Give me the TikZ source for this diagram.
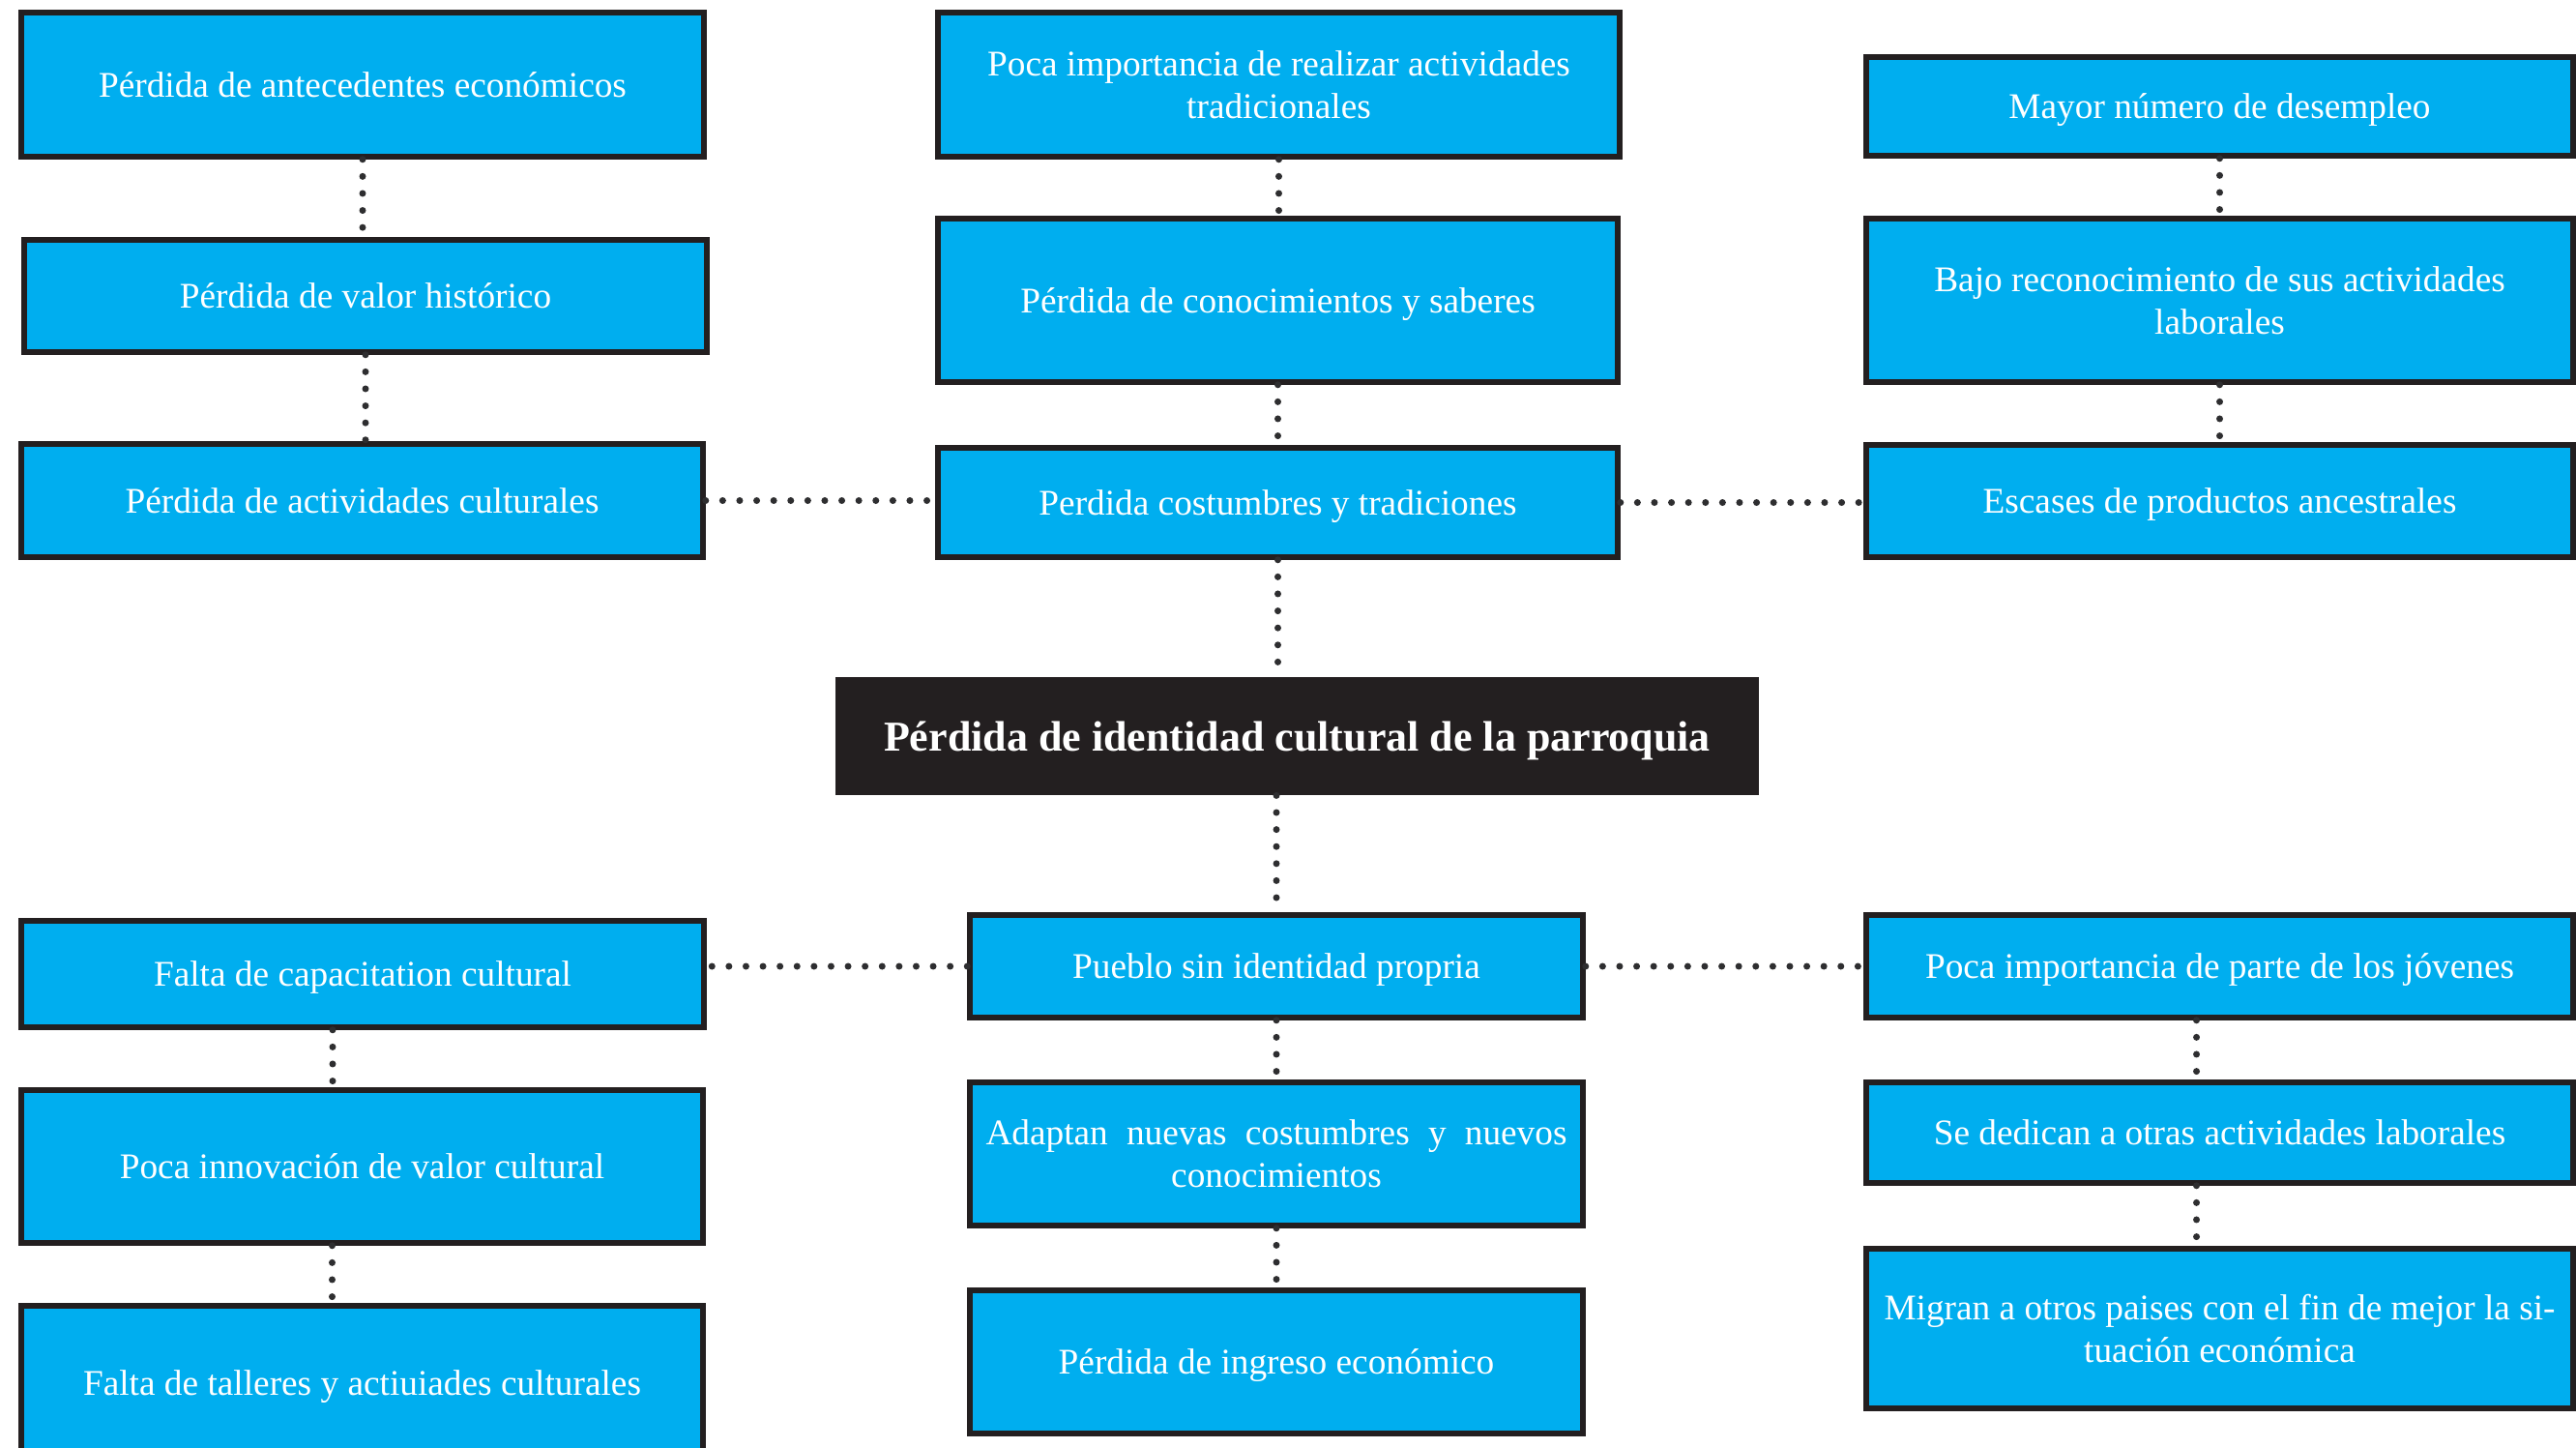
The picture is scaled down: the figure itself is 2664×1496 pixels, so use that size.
\documentclass[tikz,border=0pt]{standalone}
\usepackage{fontspec}
\setmainfont{Liberation Serif}
\usetikzlibrary{calc}
\definecolor{boxblue}{HTML}{00AEEF}
\definecolor{boxline}{HTML}{231F20}
\definecolor{dotc}{HTML}{2E2E30}
\newcommand\bx[7][one]{\node[box, #1, minimum width={(#5-#3)*0.5pt}, minimum height={(#6-#4)*0.5pt}] (#2) at ({(#3+#5)/2},{(#4+#6)/2}) {#7};}
\begin{document}
\begin{tikzpicture}[x=0.5pt,y=-0.5pt,
  box/.style={draw=boxline, line width=2.75pt, fill=boxblue, text=white, inner sep=0pt, align=center, font=\fontsize{18.65}{22}\selectfont},
  one/.style={text height=12.7pt, text depth=0pt},
  two/.style={},
  core/.style={fill=boxline, text=white, inner sep=0pt, align=center, text height=15pt, text depth=0pt, font=\fontsize{22}{26}\selectfont\bfseries},
  dots/.style={draw=dotc, line width=3.5pt, line cap=round, dash pattern=on 0pt off 8.8pt}]
\useasboundingbox (0,0) rectangle (2664,1496);

% top left column
\bx{B1}{22}{13}{728}{162}{Pérdida de antecedentes económicos}
\bx{B2}{25}{248}{731}{364}{Pérdida de valor histórico}
\bx{B3}{22}{459}{727}{576}{Pérdida de actividades culturales}
% top middle column
\bx[two]{B4}{970}{13}{1675}{162}{Poca importancia de realizar actividades\\tradicionales}
\bx{B5}{970}{226}{1673}{395}{Pérdida de conocimientos y saberes}
\bx{B6}{970}{463}{1673}{576}{Perdida costumbres y tradiciones}
% top right column
\bx{B7}{1930}{59}{2661}{161}{Mayor número de desempleo}
\bx[two]{B8}{1930}{226}{2661}{395}{Bajo reconocimiento de sus actividades\\laborales}
\bx{B9}{1930}{460}{2661}{576}{Escases de productos ancestrales}
% core
\node[core, minimum width=477.5pt, minimum height=61pt] (C) at (1341.5,761) {Pérdida de identidad cultural de la parroquia};
% bottom left column
\bx{B10}{22}{952}{728}{1062}{Falta de capacitation cultural}
\bx{B11}{22}{1127}{727}{1285}{Poca innovación de valor cultural}
\bx{B12}{22}{1350}{727}{1510}{Falta de talleres y actiuiades culturales}
% bottom middle column
\bx{B13}{1003}{946}{1637}{1052}{Pueblo sin identidad propria}
\bx[two]{B14}{1003}{1119}{1637}{1267}{\makebox[300.5pt][s]{Adaptan nuevas costumbres y nuevos}\\conocimientos}
\bx{B15}{1003}{1334}{1637}{1482}{Pérdida de ingreso económico}
% bottom right column
\bx{B16}{1930}{946}{2661}{1052}{Poca importancia de parte de los jóvenes}
\bx{B17}{1930}{1119}{2661}{1223}{Se dedican a otras actividades laborales}
\bx[two]{B18}{1930}{1291}{2661}{1456}{Migran a otros paises con el fin de mejor la si-\\tuación económica}

% vertical connectors, top
\draw[dots] (B1.south) -- (B1.south |- B2.north);
\draw[dots] (B2.south) -- (B2.south |- B3.north);
\draw[dots] (B4.south) -- (B4.south |- B5.north);
\draw[dots] (B5.south) -- (B5.south |- B6.north);
\draw[dots] (B7.south) -- (B7.south |- B8.north);
\draw[dots] (B8.south) -- (B8.south |- B9.north);
\draw[dots] (B6.south) -- (B6.south |- C.north);
% horizontal connectors, top
\draw[dots] (B3.east) -- (B3.east -| B6.west);
\draw[dots] (B6.east) -- (B6.east -| B9.west);
% core to bottom
\draw[dots] (B13.north |- C.south) -- (B13.north);
% horizontal connectors, bottom
\draw[dots] (B13.west) -- (B13.west -| B10.east);
\draw[dots] (B13.east) -- (B13.east -| B16.west);
% vertical connectors, bottom
\coordinate (L1) at ($(B10.south)+(-31,0)$);
\coordinate (L2) at ($(B11.south)+(-31,0)$);
\draw[dots] (L1) -- (L1 |- B11.north);
\draw[dots] (L2) -- (L2 |- B12.north);
\draw[dots] (B13.south) -- (B13.south |- B14.north);
\draw[dots] (B14.south) -- (B14.south |- B15.north);
\coordinate (R1) at ($(B16.south)+(-24,0)$);
\coordinate (R2) at ($(B17.south)+(-24,0)$);
\draw[dots] (R1) -- (R1 |- B17.north);
\draw[dots] (R2) -- (R2 |- B18.north);
\end{tikzpicture}
\end{document}
